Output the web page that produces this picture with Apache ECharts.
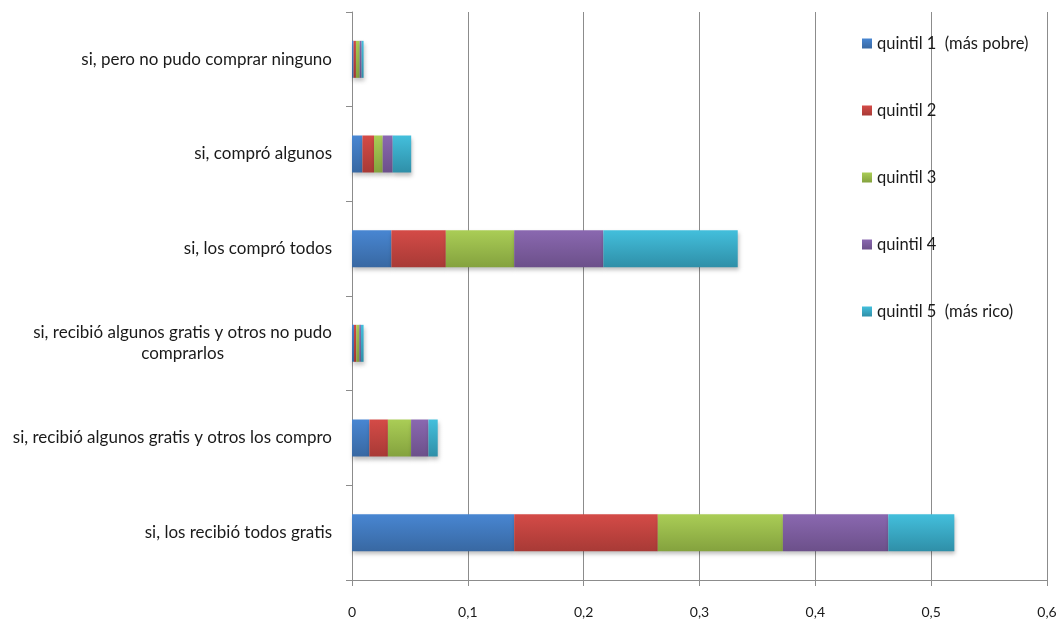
<!DOCTYPE html>
<html><head><meta charset="utf-8">
<script src="https://cdn.jsdelivr.net/npm/echarts@6/dist/echarts.min.js"></script>
<style>html,body{margin:0;padding:0;background:#fff}#c{width:1063px;height:635px}</style>
</head><body><div id="c"></div>
<script>
const categories = [
  "si, los recibió todos gratis",
  "si, recibió algunos gratis y otros los compro",
  "si, recibió algunos gratis y otros no pudo\ncomprarlos",
  "si, los compró todos",
  "si, compró algunos",
  "si, pero no pudo comprar ninguno"
];
const seriesNames = ["quintil 1  (más pobre)", "quintil 2", "quintil 3", "quintil 4", "quintil 5  (más rico)"];
const q1 = [0.140, 0.015, 0.0017, 0.034, 0.009, 0.0014];
const q2 = [0.124, 0.016, 0.0020, 0.047, 0.010, 0.0020];
const q3 = [0.108, 0.020, 0.0026, 0.059, 0.0075, 0.0032];
const q4 = [0.091, 0.015, 0.0014, 0.077, 0.0086, 0.0017];
const q5 = [0.057, 0.008, 0.0023, 0.116, 0.016, 0.0017];
const xTicks = ["0", "0,1", "0,2", "0,3", "0,4", "0,5", "0,6"];

const values = [q1, q2, q3, q4, q5];
const grads = [["#4886d2", "#3868a2"], ["#d44b47", "#a83a36"], ["#aacd56", "#84a23e"], ["#8a68b0", "#6c508a"], ["#43bfdc", "#2f8fa8"]];
const font = "Lato, 'Liberation Sans', sans-serif";

const chart = echarts.init(document.getElementById('c'));
chart.setOption({
  animation: false,
  backgroundColor: '#fff',
  textStyle: { fontFamily: font },
  grid: { left: 352, right: 16, top: 12, bottom: 55, containLabel: false },
  legend: {
    orient: 'vertical', left: 862, top: 35, padding: 0, itemGap: 50, itemWidth: 10, itemHeight: 10,
    icon: 'rect',
    textStyle: { fontFamily: font, fontSize: 16.5, color: '#1a1a1a' },
    data: seriesNames
  },
  xAxis: {
    type: 'value', min: 0, max: 0.6, interval: 0.1,
    axisLine: { show: true, lineStyle: { color: '#8c8c8c' } },
    axisTick: { show: true, length: 6, lineStyle: { color: '#8c8c8c' } },
    splitLine: { show: true, lineStyle: { color: '#8c8c8c', width: 1 } },
    axisLabel: { margin: 25, fontSize: 14, color: '#1a1a1a', fontFamily: font,
      formatter: v => xTicks[Math.round(v * 10)] }
  },
  yAxis: {
    type: 'category', data: categories,
    axisLine: { show: true, lineStyle: { color: '#8c8c8c' } },
    axisTick: { show: true, length: 6, lineStyle: { color: '#8c8c8c' } },
    axisLabel: { margin: 20, fontSize: 17, color: '#1a1a1a', fontFamily: font,
      formatter: v => v.indexOf('\n') >= 0 ? v.split('\n').map(s => '{c|' + s + '}').join('\n') : v,
      rich: { c: { align: 'center', fontSize: 17, color: '#1a1a1a', fontFamily: font, lineHeight: 21 } } }
  },
  series: values.map((d, i) => ({
    name: seriesNames[i], type: 'bar', stack: 'total', data: d,
    barWidth: 37,
    itemStyle: {
      color: new echarts.graphic.LinearGradient(0, 0, 0, 1, [{ offset: 0, color: grads[i][0] }, { offset: 1, color: grads[i][1] }]),
      shadowBlur: 4, shadowOffsetY: 3, shadowOffsetX: 1, shadowColor: 'rgba(0,0,0,0.25)'
    }
  }))
});
</script></body></html>
